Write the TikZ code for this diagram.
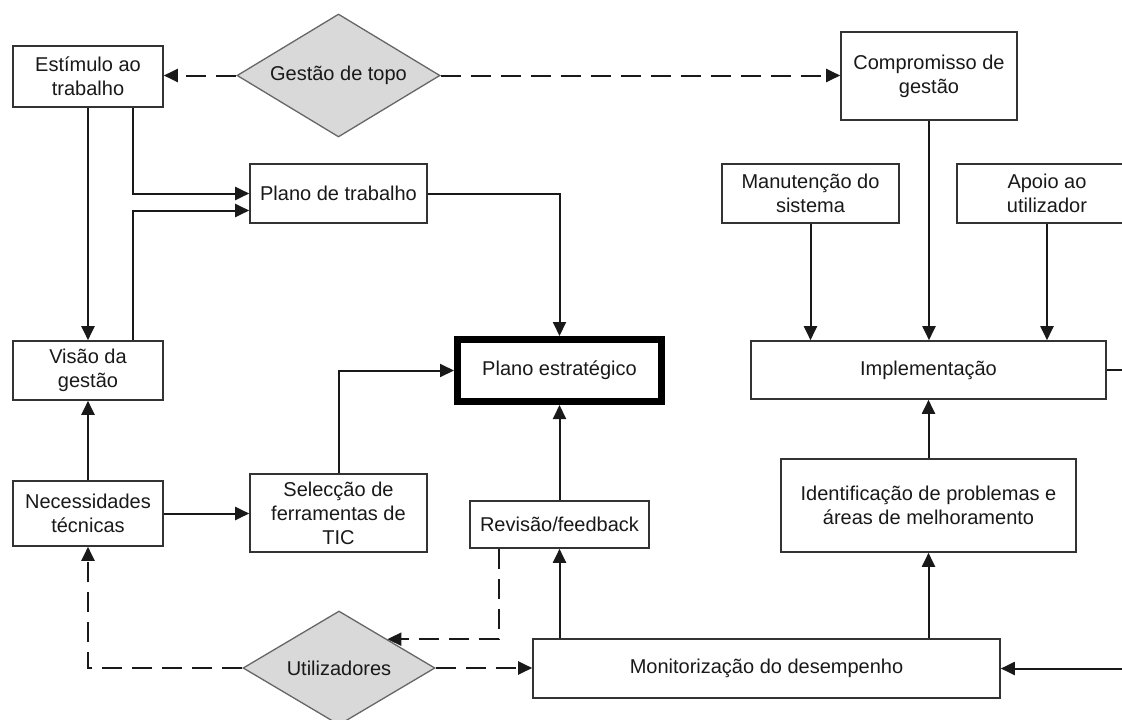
\documentclass[tikz,border=0pt]{standalone}
\usepackage{fontspec}
\setmainfont{Liberation Sans}
\usetikzlibrary{shapes.geometric,arrows.meta}
\begin{document}
\begin{tikzpicture}[x=1pt,y=-1pt,
  every node/.style={font=\fontsize{20}{24}\selectfont, text=black!90},
  box/.style={draw=black!80, line width=1.6pt, fill=white, align=center, inner sep=0pt},
  keybox/.style={draw=black, line width=7pt, fill=white, align=center, inner sep=0pt},
  choice/.style={diamond, aspect=1.65, draw=black!60, line width=1.3pt, fill=black!15, inner sep=0pt},
  link/.style={line width=2pt, draw=black!90, -{Triangle[length=14pt,width=13pt]}},
  dlink/.style={link, dash pattern=on 20pt off 10pt},
]
\useasboundingbox (0,0) rectangle (1122,720);
\clip (0,0) rectangle (1122,720);

% left column and top
\node[box, minimum width=150pt, minimum height=61pt] (est) at (88,76.5) {Estímulo ao\\trabalho};
\node[choice, minimum width=203pt, minimum height=123pt] (top) at (338.5,75.5) {Gestão de topo};
\node[box, minimum width=177pt, minimum height=59pt] (ptr) at (338.5,193.5) {Plano de trabalho};
\node[box, minimum width=150pt, minimum height=59pt] (vis) at (88,370.5) {Visão da\\gestão};
\node[box, minimum width=150pt, minimum height=65pt] (nec) at (88,513.5) {Necessidades\\técnicas};
\node[box, minimum width=177pt, minimum height=78pt] (sel) at (338.5,513) {Selecção de\\ferramentas de\\TIC};
\node[choice, minimum width=192pt, minimum height=114pt] (usr) at (339,668) {Utilizadores};

% centre
\node[keybox, minimum width=204pt, minimum height=62pt] (pe) at (559.5,370.5) {Plano estratégico};
\node[box, minimum width=179pt, minimum height=47pt] (rev) at (559.5,524.5) {Revisão/feedback};
\node[box, minimum width=467pt, minimum height=59pt] (mon) at (766.5,668.5) {Monitorização do desempenho};

% right side
\node[box, minimum width=176pt, minimum height=88pt] (cmp) at (929,76) {Compromisso de\\gestão};
\node[box, minimum width=177pt, minimum height=59pt] (man) at (810.5,193.5) {Manutenção do\\sistema};
\node[box, minimum width=180pt, minimum height=59pt] (apo) at (1047,193.5) {Apoio ao\\utilizador};
\node[box, minimum width=355pt, minimum height=58pt] (imp) at (928.5,370) {Implementação};
\node[box, minimum width=295pt, minimum height=93pt] (idf) at (928.5,505.5) {Identificação de problemas e\\áreas de melhoramento};

% connectors
\draw[dlink] (top.west) -- (top.west -| est.east);
\draw[dlink] (top.east) -- (top.east -| cmp.west);
\draw[link] (est.south) -- (vis.north);
\draw[link] ([xshift=45pt]est.south) |- (ptr.west);
\draw[link] ([xshift=45pt]vis.north) |- ([yshift=-17pt]ptr.west);
\draw[link] (nec.north) -- (vis.south);
\draw[link] (nec.east) -- (nec.east -| sel.west);
\draw[link] (sel.north) |- (pe.west);
\draw[link] (ptr.east) -| (pe.north);
\draw[link] (rev.north) -- (pe.south);
\draw[link] (mon.north -| rev.south) -- (rev.south);
\draw[dlink] ([xshift=-61pt]rev.south) |- (usr.north east);
\draw[dlink] (usr.west) -| (nec.south);
\draw[dlink] (usr.east) -- (usr.east -| mon.west);
\draw[link] (mon.north -| idf.south) -- (idf.south);
\draw[link] (idf.north) -- (imp.south);
\draw[link] (cmp.south) -- (cmp.south |- imp.north);
\draw[link] (man.south) -- (man.south |- imp.north);
\draw[link] (apo.south) -- (apo.south |- imp.north);
\coordinate (rgt) at (1150,370);
\draw[link] (imp.east) -- (rgt) |- (mon.east);
\end{tikzpicture}
\end{document}
